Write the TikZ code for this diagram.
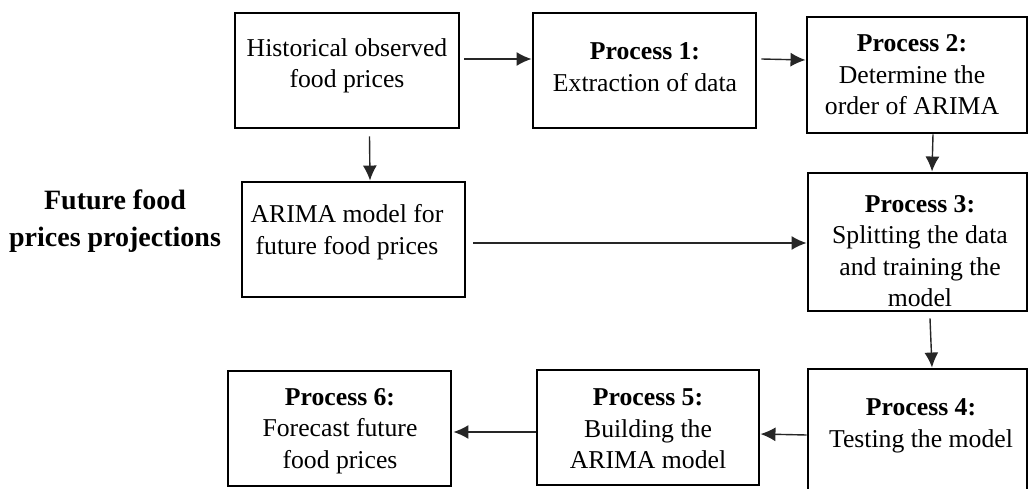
\documentclass[tikz,border=0pt]{standalone}
\usepackage{fontspec}
\setmainfont{Liberation Serif}
\usetikzlibrary{arrows.meta}

\tikzset{
  stepbox/.style={draw=black, line width=2.9pt, rectangle, inner sep=0pt},
  boxtext/.style={align=center, inner sep=0pt,
    font=\fontsize{25.7}{31.5}\selectfont},
  sidetext/.style={align=center, inner sep=0pt,
    font=\fontsize{28}{37}\selectfont\bfseries},
  flow/.style={line width=1.4pt, draw=black!85,
    -{Latex[length=15pt,width=14pt]}}
}

% box of given left, top, right, bottom (pixel-like units, y downwards)
\newcommand{\stepnode}[5]{%
  \node[stepbox, minimum width={#4-#2}, minimum height={#5-#3}]
    (#1) at ({(#2+#4)/2},{(#3+#5)/2}) {};}

\begin{document}
\begin{tikzpicture}[x=1pt,y=-1pt]
\useasboundingbox (0,0) rectangle (1029,489);
\clip (0,0) rectangle (1029,489);

% boxes
\stepnode{hist}{235}{13}{459}{128}
\stepnode{p1}{533}{13}{756}{128}
\stepnode{p2}{807}{17}{1027}{133}
\stepnode{arima}{242}{182}{465}{297}
\stepnode{p3}{808}{173}{1027}{311}
\stepnode{p4}{808}{369}{1027}{510}
\stepnode{p5}{537}{370}{759}{485}
\stepnode{p6}{228}{371}{451}{486}

% texts
\node[boxtext] (thist) at (347,66) {Historical observed\\food prices};
\node[boxtext] (tp1) at (645,67) {\textbf{Process 1:}\\Extraction of data};
\node[boxtext] (tp2) at (912,75) {\textbf{Process 2:}\\Determine the\\order of ARIMA};
\node[boxtext] (tarima) at (347,232) {ARIMA model for\\future food prices};
\node[boxtext] (tp3) at (920,251) {\textbf{Process 3:}\\Splitting the data\\and training the\\model};
\node[boxtext] (tp4) at (921,426) {\textbf{Process 4:}\\Testing the model};
\node[boxtext] (tp5) at (648,429) {\textbf{Process 5:}\\Building the\\ARIMA model};
\node[boxtext] (tp6) at (340,431) {\textbf{Process 6:}\\Forecast future\\food prices};

\node[sidetext] (side) at (115,221) {Future food\\prices projections};

% connectors
\draw[flow] ([xshift=4pt,yshift=11.5pt]hist.east) -- ([yshift=11.5pt]p1.west);
\draw[flow] ([xshift=4pt,yshift=11.5pt]p1.east) -- ([yshift=15pt]p2.west);
\draw[flow] ([xshift=22.5pt,yshift=-7pt]hist.south) -- ([xshift=16.5pt]arima.north);
\draw[flow] ([xshift=16pt]p2.south) -- ([xshift=14.5pt]p3.north);
\draw[flow] ([xshift=7pt,yshift=-3.5pt]arima.east) -- ([yshift=-1pt]p3.west);
\draw[flow] ([xshift=12.5pt,yshift=-6pt]p3.south) -- ([xshift=14.5pt]p4.north);
\draw[flow] ([yshift=4.5pt]p4.west) -- ([yshift=-6.5pt]p5.east);
\draw[flow] ([yshift=-4.5pt]p5.west) -- ([xshift=1pt,yshift=-3.5pt]p6.east);
\end{tikzpicture}
\end{document}
